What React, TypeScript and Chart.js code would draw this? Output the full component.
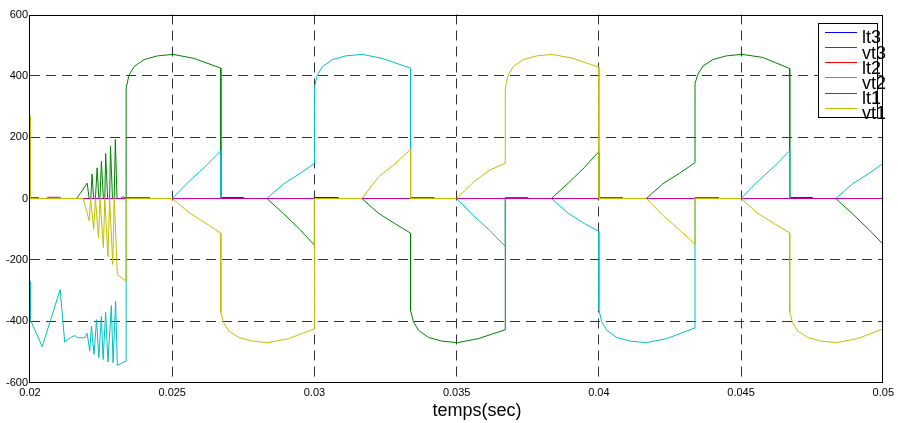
import { useEffect, useRef } from 'react';
import { Chart, registerables } from 'chart.js';

Chart.register(...registerables);

// ---- data (time in s, value) ----
const xTicks = [0.02, 0.025, 0.03, 0.035, 0.04, 0.045, 0.05];
const xTickLabels = ['0.02', '0.025', '0.03', '0.035', '0.04', '0.045', '0.05'];
const yTicks = [-600, -400, -200, 0, 200, 400, 600];
const yTickLabels = ['-600', '-400', '-200', '0', '200', '400', '600'];
const xTitle = 'temps(sec)';

const seriesNames = ['lt3', 'vt3', 'lt2', 'vt2', 'lt1', 'vt1'];
const seriesColors = ['#0000FF', '#008000', '#FF0000', '#00BFBF', '#BF00BF', '#BFBF00'];

const lt3: [number, number][] = [
  [0.02, 0], [0.02671, 0], [0.02671, 3], [0.0275, 3], [0.0275, 0], [0.03, 0], [0.03, 3], [0.03083, 3], [0.03083, 0],
  [0.04671, 0], [0.04671, 3], [0.0475, 3], [0.0475, 0], [0.05, 0],
];

const vt3: [number, number][] = [
  [0.02, 0], [0.02164, 0], [0.02201, 50], [0.02208, 0], [0.02214, 0], [0.02218, 80], [0.02224, 0], [0.0223, 0],
  [0.02236, 100], [0.02242, 0], [0.02246, 0], [0.02251, 122], [0.02258, 0], [0.02263, 0], [0.02266, 147],
  [0.02273, 0], [0.0228, 0], [0.02283, 170], [0.0229, 0], [0.02296, 0], [0.023, 193], [0.02306, 0], [0.02318, 0],
  [0.02328, 6], [0.02338, 0],
  [0.02338, 360], [0.02348, 402], [0.02366, 430], [0.02401, 453], [0.02448, 465], [0.02503, 470], [0.02576, 457],
  [0.02671, 425], [0.02671, 0], [0.02833, 0], [0.02892, -50], [0.0295, -102], [0.03, -152], [0.03, 0],
  [0.03167, 0], [0.03225, -48], [0.03283, -82], [0.03338, -113], [0.03338, -365], [0.03348, -402], [0.03366, -430],
  [0.03401, -453], [0.03448, -465], [0.03503, -470], [0.03576, -457], [0.03671, -428], [0.03671, 0], [0.03833, 0],
  [0.03892, 50], [0.0395, 102], [0.04, 153], [0.04, 0], [0.04167, 0], [0.04225, 48], [0.04283, 82], [0.04338, 117],
  [0.04338, 375], [0.04348, 405], [0.04366, 432], [0.04401, 453], [0.04448, 465], [0.04503, 470], [0.04576, 460],
  [0.04671, 424], [0.04671, 0], [0.04833, 0], [0.04892, -50], [0.0495, -102], [0.05, -150],
];

const lt2: [number, number][] = [
  [0.02, 0], [0.03338, 0], [0.03338, 3], [0.0342, 3], [0.0342, 0], [0.03671, 0], [0.03671, 3], [0.0375, 3],
  [0.0375, 0], [0.05, 0],
];

const vt2: [number, number][] = [
  [0.02, -270], [0.02001, -395], [0.02043, -483], [0.02106, -297], [0.02122, -468], [0.0214, -455], [0.02157, -447],
  [0.02168, -454], [0.02192, -454], [0.02201, -440], [0.0221, -497], [0.02216, -416], [0.02225, -508],
  [0.02234, -395], [0.02242, -519], [0.02251, -384], [0.02257, -525], [0.02266, -371], [0.02274, -533],
  [0.02286, -349], [0.02292, -535], [0.02301, -335], [0.02307, -544], [0.02338, -530], [0.02338, 0], [0.025, 0],
  [0.02558, 55], [0.02617, 105], [0.02671, 156], [0.02671, 0], [0.02833, 0], [0.02892, 48], [0.0295, 82],
  [0.03, 115], [0.03, 364], [0.0301, 402], [0.03028, 430], [0.03063, 453], [0.0311, 465], [0.03168, 470],
  [0.03238, 457], [0.03338, 425], [0.03338, 0], [0.035, 0], [0.03558, -55], [0.03617, -105], [0.03671, -156],
  [0.03671, 0], [0.03833, 0], [0.03892, -48], [0.0395, -82], [0.04, -107], [0.04, -362], [0.0401, -402],
  [0.04028, -430], [0.04063, -453], [0.0411, -465], [0.04168, -470], [0.04238, -457], [0.04338, -422],
  [0.04338, 0], [0.045, 0], [0.04558, 55], [0.04617, 105], [0.04671, 156], [0.04671, 0], [0.04833, 0],
  [0.04892, 48], [0.0495, 82], [0.05, 115],
];

const lt1: [number, number][] = [
  [0.02, 0], [0.02001, 3], [0.0203, 3], [0.0203, 0], [0.02057, 0], [0.02062, 4], [0.02105, 4], [0.0211, 0],
  [0.02338, 0], [0.02338, 3], [0.0242, 3], [0.0242, 0], [0.04, 0], [0.04, 3], [0.04083, 3], [0.04083, 0],
  [0.04338, 0], [0.04338, 3], [0.0442, 3], [0.0442, 0], [0.05, 0],
];

const vt1: [number, number][] = [
  [0.02, 270], [0.02001, 0], [0.02187, 0], [0.02208, -72], [0.02213, 0], [0.02224, -100], [0.0223, 0],
  [0.02241, -130], [0.02246, 0], [0.02258, -160], [0.02263, 0], [0.02274, -190], [0.0228, 0], [0.02291, -215],
  [0.02296, 0], [0.02307, -245], [0.0231, -250], [0.02338, -270], [0.02338, 0], [0.025, 0], [0.02558, -45],
  [0.02617, -80], [0.02671, -113], [0.02671, -373], [0.02681, -405], [0.02699, -432], [0.02734, -453],
  [0.02781, -465], [0.02836, -470], [0.02909, -457], [0.03, -425], [0.03, 0], [0.03167, 0], [0.03225, 70],
  [0.03283, 113], [0.03338, 160], [0.03338, 0], [0.035, 0], [0.03561, 55], [0.03617, 93], [0.03671, 115],
  [0.03671, 360], [0.03681, 402], [0.03699, 430], [0.03734, 453], [0.03781, 465], [0.03836, 470], [0.03909, 457],
  [0.04, 428], [0.04, 0], [0.04167, 0], [0.04225, -55], [0.04283, -102], [0.04338, -150], [0.04338, 0], [0.045, 0],
  [0.04558, -48], [0.04617, -82], [0.04671, -112], [0.04671, -370], [0.04681, -405], [0.04699, -432],
  [0.04734, -453], [0.04781, -465], [0.04836, -470], [0.04909, -457], [0.05, -425],
];

const FONT = '"Liberation Sans", Arial, Helvetica, sans-serif';

export default function App() {
  const ref = useRef<HTMLCanvasElement | null>(null);

  useEffect(() => {
    if (!ref.current) return;
    const all = [lt3, vt3, lt2, vt2, lt1, vt1];
    // MATLAB draws later series on top; Chart.js draws dataset 0 on top -> reverse
    const datasets = all
      .map((arr, i) => ({
        label: seriesNames[i],
        data: arr.map(([x, y]) => ({ x, y })),
        borderColor: seriesColors[i],
        backgroundColor: seriesColors[i],
        borderWidth: 1,
        pointRadius: 0,
        tension: 0,
        fill: false,
      }))
      .reverse();

    const decor = {
      id: 'matlabDecor',
      afterDraw(chart: any) {
        const { ctx, chartArea } = chart;
        const { left, top, right, bottom } = chartArea;
        ctx.save();
        // axes box
        ctx.strokeStyle = '#000';
        ctx.lineWidth = 1;
        ctx.setLineDash([]);
        ctx.strokeRect(Math.round(left) - 0.5, Math.round(top) + 0.5, Math.round(right) - Math.round(left), Math.round(bottom) - Math.round(top) - 1);
        // legend
        const lx = 818.5, ly = 23.5, lw = 59, lh = 94;
        ctx.fillStyle = '#fff';
        ctx.fillRect(lx, ly, lw, lh);
        ctx.strokeRect(lx, ly, lw, lh);
        ctx.font = `18px ${FONT}`;
        ctx.textAlign = 'left';
        ctx.textBaseline = 'alphabetic';
        seriesNames.forEach((name, i) => {
          const y = 31.7 + 15.2 * i;
          ctx.strokeStyle = seriesColors[i];
          ctx.beginPath();
          ctx.moveTo(825, Math.round(y) + 0.5);
          ctx.lineTo(857, Math.round(y) + 0.5);
          ctx.stroke();
          ctx.fillStyle = '#000';
          ctx.fillText(name, 862, y + 11.6);
        });
        // x title
        ctx.font = `18px ${FONT}`;
        ctx.textAlign = 'center';
        ctx.fillStyle = '#000';
        ctx.fillText(xTitle, 477, 416);
        ctx.restore();
      },
    };

    const chart = new Chart(ref.current, {
      type: 'line',
      data: { datasets },
      plugins: [decor],
      options: {
        responsive: false,
        devicePixelRatio: 1,
        animation: false,
        events: [],
        layout: { padding: { left: 0, top: 14.5, right: 11.5, bottom: 0.5 } },
        plugins: { legend: { display: false }, tooltip: { enabled: false } },
        scales: {
          x: {
            type: 'linear',
            min: 0.02,
            max: 0.05,
            afterBuildTicks: (s: any) => {
              s.ticks = xTicks.map((v) => ({ value: v }));
            },
            afterFit: (s: any) => {
              s.height = 40;
            },
            ticks: {
              autoSkip: false,
              maxRotation: 0,
              padding: 4,
              color: '#000',
              font: { family: FONT, size: 11 },
              callback: (v: any) => {
                const i = xTicks.findIndex((t) => Math.abs(t - Number(v)) < 1e-9);
                return i >= 0 ? xTickLabels[i] : '';
              },
            },
            grid: {
              drawTicks: false,
              lineWidth: 1,
              color: (c: any) =>
                c.tick && (Math.abs(c.tick.value - 0.02) < 1e-9 || Math.abs(c.tick.value - 0.05) < 1e-9)
                  ? 'rgba(0,0,0,0)'
                  : 'rgba(0,0,0,0.8)',
            },
            border: { display: false, dash: [10, 6] },
          },
          y: {
            type: 'linear',
            min: -600,
            max: 600,
            afterBuildTicks: (s: any) => {
              s.ticks = yTicks.map((v) => ({ value: v }));
            },
            afterFit: (s: any) => {
              s.width = 30;
            },
            ticks: {
              padding: 2,
              color: '#000',
              font: { family: FONT, size: 11 },
              callback: (v: any) => {
                const i = yTicks.indexOf(Number(v));
                return i >= 0 ? yTickLabels[i] : '';
              },
            },
            grid: {
              drawTicks: false,
              lineWidth: 1,
              color: (c: any) =>
                c.tick && Math.abs(c.tick.value) === 600 ? 'rgba(0,0,0,0)' : 'rgba(0,0,0,0.8)',
            },
            border: { display: false, dash: [10, 6] },
          },
        },
      },
    });
    return () => chart.destroy();
  }, []);

  return (
    <div style={{ position: 'fixed', left: 0, top: 0, width: 898, height: 423, background: '#fff' }}>
      <canvas ref={ref} width={898} height={423} style={{ display: 'block' }} />
    </div>
  );
}
